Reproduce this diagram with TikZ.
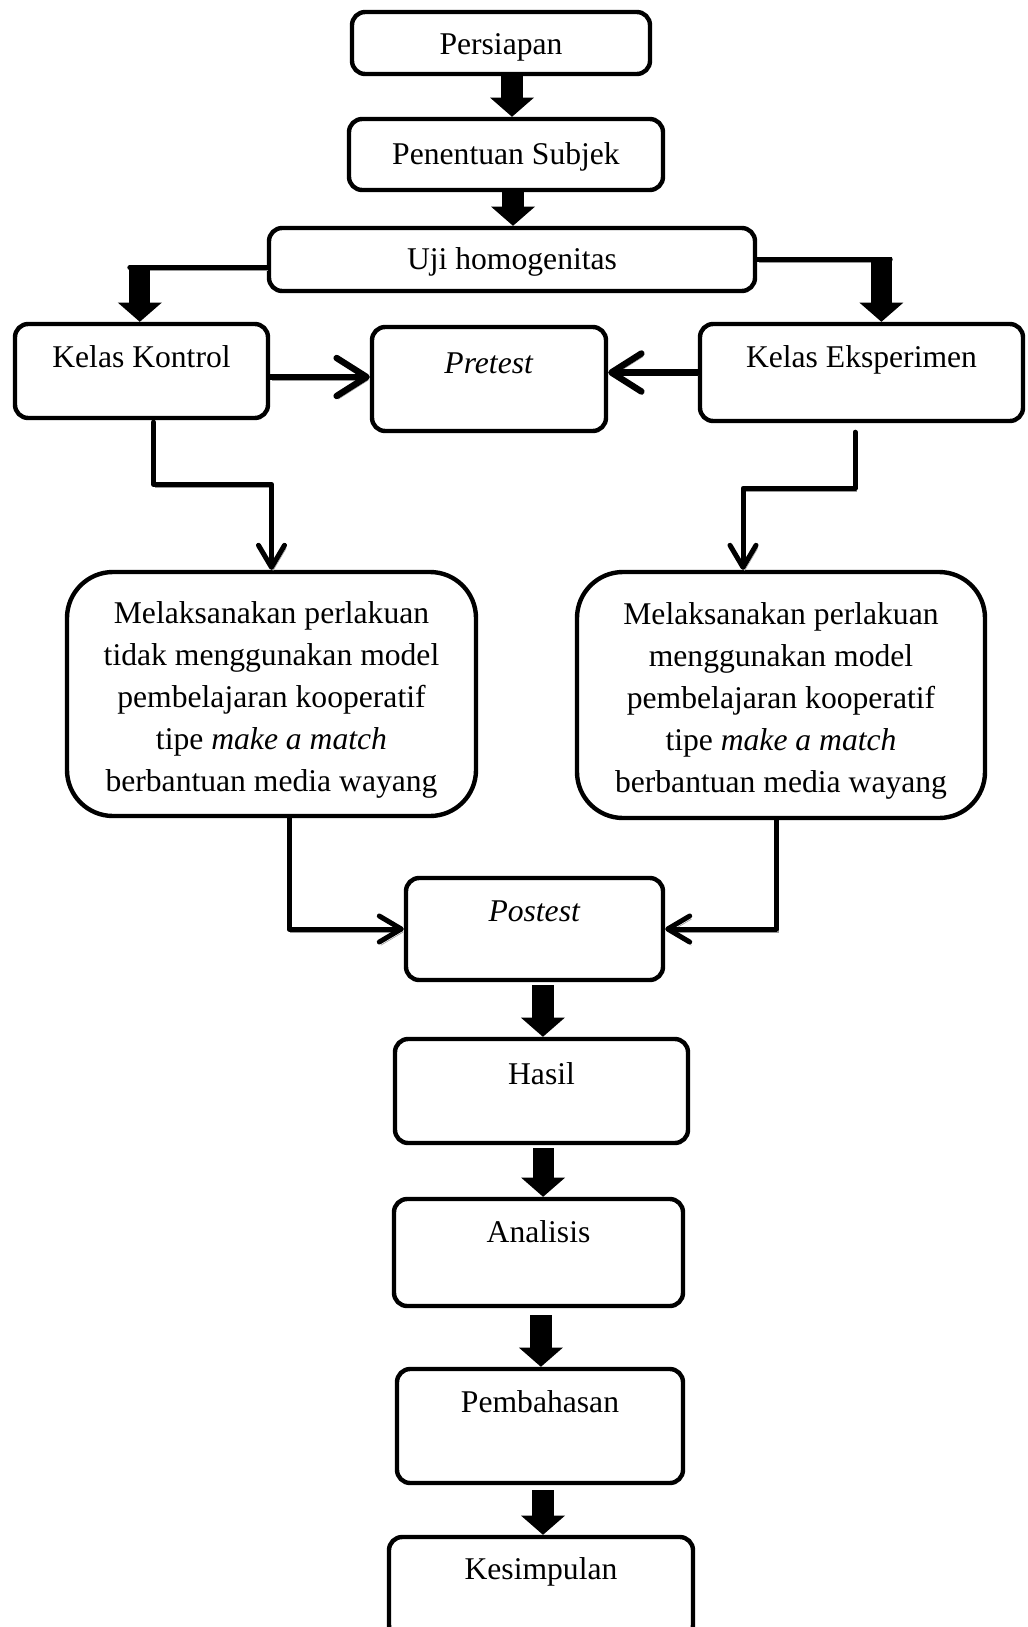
\documentclass[tikz,border=0pt]{standalone}
\usepackage{fontspec}
\setmainfont{Liberation Serif}
\usepackage{tikz}
\usetikzlibrary{arrows.meta, positioning, calc}
\tikzstyle{box} = [draw, line width=0.11cm, rounded corners=0.33cm, inner sep=0pt]
\tikzstyle{bigbox} = [draw, line width=0.11cm, rounded corners=1.15cm, inner sep=0pt]
\tikzstyle{txt} = [font=\fontsize{22.5}{29.9}\selectfont, align=center, inner sep=0pt]
\tikzstyle{shade} = [preaction={draw=black!40, transform canvas={shift={(0.04cm,-0.08cm)}}}]
\tikzstyle{link} = [line width=0.125cm, line cap=round, line join=round, shade]
\tikzstyle{openhead} = [link, line width=0.16cm, -{Straight Barb[length=0.75cm, width=0.95cm, round]}]
\tikzstyle{thinarrow} = [link, -{Straight Barb[length=0.55cm, width=0.65cm, round]}]
\tikzstyle{block} = [line width=0.53cm, -{Triangle[length=0.48cm, width=1.1cm, line width=0pt]}]

\begin{document}
\begin{tikzpicture}
\useasboundingbox (0,0) rectangle (25.675,-40.675);

% Top column
\node[box, minimum width=7.45cm, minimum height=1.55cm] (persiapan) at (12.525,-1.075) {};
\node[txt, anchor=base] at ([yshift=-1.125cm]persiapan.north) {Persiapan};

\node[box, minimum width=7.85cm, minimum height=1.775cm] (penentuan) at (12.65,-3.8625) {};
\node[txt, anchor=base] at ([yshift=-1.2cm]penentuan.north) {Penentuan Subjek};

\node[box, minimum width=12.15cm, minimum height=1.575cm] (uji) at (12.8,-6.4875) {};
\node[txt, anchor=base] at ([yshift=-1.1cm]uji.north) {Uji homogenitas};

% Classes and pretest
\node[box, minimum width=6.325cm, minimum height=2.35cm] (kontrol) at (3.5375,-9.275) {};
\node[txt, anchor=base] at ([yshift=-1.15cm]kontrol.north) {Kelas Kontrol};

\node[box, minimum width=5.85cm, minimum height=2.6cm] (pretest) at (12.225,-9.475) {};
\node[txt, anchor=base] at ([yshift=-1.225cm]pretest.north) {\textit{Pretest}};

\node[box, minimum width=8.075cm, minimum height=2.425cm] (eksp) at (21.5375,-9.3125) {};
\node[txt, anchor=base] at ([yshift=-1.15cm]eksp.north) {Kelas Eksperimen};

% Treatments
\node[bigbox, minimum width=10.225cm, minimum height=6.1cm] (perlK) at (6.7875,-17.35) {};
\node[txt] at ([yshift=-0.14cm]perlK.center) {Melaksanakan perlakuan\\tidak menggunakan model\\pembelajaran kooperatif\\tipe \textit{make a match}\\berbantuan media wayang};

\node[bigbox, minimum width=10.2cm, minimum height=6.15cm] (perlE) at (19.525,-17.375) {};
\node[txt] at ([yshift=-0.14cm]perlE.center) {Melaksanakan perlakuan\\menggunakan model\\pembelajaran kooperatif\\tipe \textit{make a match}\\berbantuan media wayang};

% Bottom column
\node[box, minimum width=6.425cm, minimum height=2.55cm] (postest) at (13.3625,-23.225) {};
\node[txt, anchor=base] at ([yshift=-1.15cm]postest.north) {\textit{Postest}};

\node[box, minimum width=7.325cm, minimum height=2.6cm] (hasil) at (13.5375,-27.275) {};
\node[txt, anchor=base] at ([yshift=-1.2cm]hasil.north) {Hasil};

\node[box, minimum width=7.225cm, minimum height=2.675cm] (analisis) at (13.4625,-31.3125) {};
\node[txt, anchor=base] at ([yshift=-1.15cm]analisis.north) {Analisis};

\node[box, minimum width=7.15cm, minimum height=2.85cm] (pembahasan) at (13.5,-35.65) {};
\node[txt, anchor=base] at ([yshift=-1.15cm]pembahasan.north) {Pembahasan};

\node[box, minimum width=7.6cm, minimum height=2.525cm] (kesimpulan) at (13.525,-39.6875) {};
\node[txt, anchor=base] at ([yshift=-1.125cm]kesimpulan.north) {Kesimpulan};

% Block arrows
\draw[block] (persiapan.south) ++(0.275,0) coordinate (b1) -- (b1 |- penentuan.north);
\draw[block] (penentuan.south) ++(0.175,0) coordinate (b2) -- (b2 |- uji.north);

\draw[link] ([yshift=-0.2cm]uji.west) -- ++(-3.425,0) coordinate (ujiK);
\draw[block] (ujiK) ++(0.25,0.06) coordinate (k1) -- (k1 |- kontrol.north);
\draw[link] (uji.east) -- ++(3.325,0) coordinate (ujiE);
\draw[block] (ujiE) ++(-0.22,0.06) coordinate (e1) -- (e1 |- eksp.north);

% Into pretest
\draw[openhead] ([yshift=-0.15cm]kontrol.east) coordinate (kp) -- (kp -| pretest.west);
\draw[openhead] (eksp.west) -- (eksp.west -| pretest.east);

% Into treatments
\draw[thinarrow] ([xshift=0.3cm]kontrol.south) ++(0,-0.05) -- ++(0,-1.55) -| (perlK.north);
\draw[thinarrow] ([xshift=-0.16cm]eksp.south) ++(0,-0.225) -- ++(0,-1.4) -| ([xshift=-0.95cm]perlE.north);

% Into postest
\draw[thinarrow] ([xshift=0.44cm]perlK.south) |- (postest.west);
\draw[thinarrow] ([xshift=-0.12cm]perlE.south) |- (postest.east);

\draw[block] (postest.south) ++(0.21,-0.075) coordinate (b3) -- (b3 |- hasil.north);
\draw[block] (hasil.south) ++(0.04,-0.075) coordinate (b4) -- (b4 |- analisis.north);
\draw[block] (analisis.south) ++(0.06,-0.175) coordinate (b5) -- (b5 |- pembahasan.north);
\draw[block] (pembahasan.south) ++(0.075,-0.125) coordinate (b6) -- (b6 |- kesimpulan.north);
\end{tikzpicture}
\end{document}
